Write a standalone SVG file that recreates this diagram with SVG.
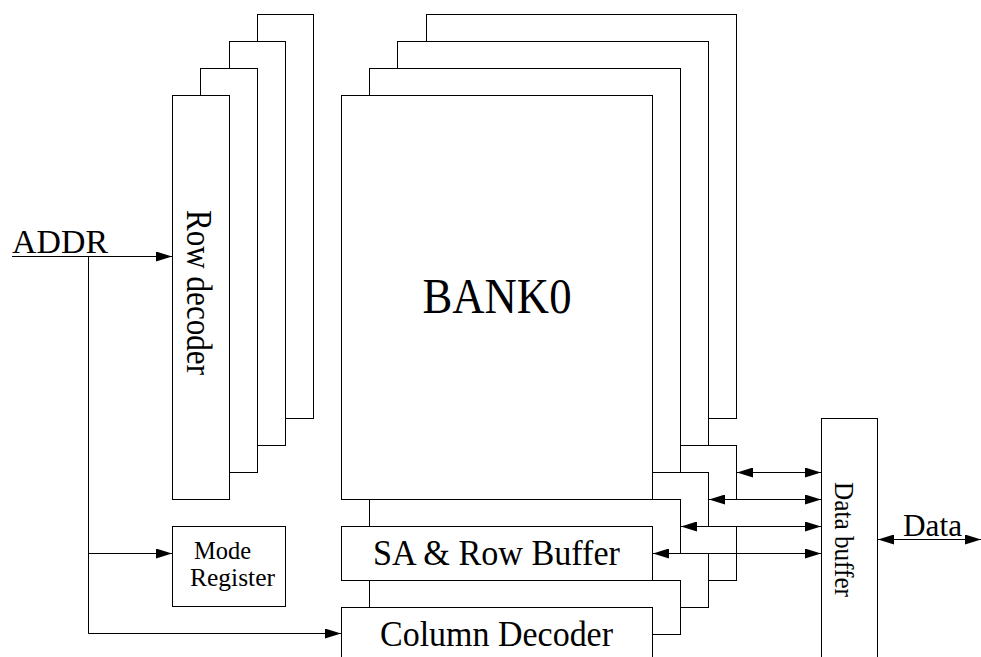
<svg xmlns="http://www.w3.org/2000/svg" width="981" height="657" viewBox="0 0 981 657">
<style>
.b{fill:#fff;stroke:#000;stroke-width:1}
.c{fill:none;stroke:#000;stroke-width:1}
.a2{marker-start:url(#ah);marker-end:url(#ah)}
.a1{marker-end:url(#ah)}
.t{font-family:"Liberation Serif","Times New Roman",serif;fill:#000}
</style>
<defs>
<marker id="ah" viewBox="0 0 16 10" refX="16" refY="5" markerWidth="16" markerHeight="10" markerUnits="userSpaceOnUse" orient="auto-start-reverse">
<path d="M0,0 L16,5 L0,10 Z" fill="#000"/>
</marker>
</defs>
<rect width="981" height="657" fill="#fff"/>
<g id="row-decoder">
<rect class="b" x="257.5" y="14.5" width="56" height="404"/>
<rect class="b" x="229.5" y="41.5" width="56" height="404"/>
<rect class="b" x="200.5" y="68.5" width="57" height="404"/>
<rect class="b" x="172.5" y="95.5" width="57" height="404"/>
<text class="t" transform="translate(187,292.5) rotate(90)" font-size="35" text-anchor="middle" textLength="165" lengthAdjust="spacingAndGlyphs">Row decoder</text>
</g>
<g id="bank3">
<rect class="b" x="426.5" y="14.5" width="310" height="404"/>
<rect class="b" x="426.5" y="445.5" width="310" height="54"/>
<rect class="b" x="426.5" y="526.5" width="310" height="54"/>
</g>
<g id="bank2">
<rect class="b" x="397.5" y="41.5" width="311" height="404"/>
<rect class="b" x="397.5" y="472.5" width="311" height="54"/>
<rect class="b" x="397.5" y="553.5" width="311" height="54"/>
</g>
<g id="bank1">
<rect class="b" x="369.5" y="68.5" width="311" height="404"/>
<rect class="b" x="369.5" y="499.5" width="311" height="54"/>
<rect class="b" x="369.5" y="580.5" width="311" height="54"/>
</g>
<g id="bank0">
<rect class="b" x="341.5" y="95.5" width="311" height="404"/>
<text class="t" x="497" y="313" font-size="50" text-anchor="middle" textLength="149" lengthAdjust="spacingAndGlyphs">BANK0</text>
</g>
<g id="sa-row-buffer">
<rect class="b" x="341.5" y="526.5" width="311" height="54"/>
<text class="t" x="373" y="565" font-size="35" textLength="247" lengthAdjust="spacingAndGlyphs">SA &amp; Row Buffer</text>
</g>
<g id="column-decoder">
<rect class="b" x="341.5" y="607.5" width="311" height="60"/>
<text class="t" x="380" y="646" font-size="35" textLength="233" lengthAdjust="spacingAndGlyphs">Column Decoder</text>
</g>
<g id="mode-register">
<rect class="b" x="172.5" y="526.5" width="113" height="80"/>
<text class="t" x="194" y="559" font-size="26" textLength="57" lengthAdjust="spacingAndGlyphs">Mode</text>
<text class="t" x="190" y="586" font-size="26" textLength="85" lengthAdjust="spacingAndGlyphs">Register</text>
</g>
<g id="data-buffer">
<rect class="b" x="821.5" y="418.5" width="56" height="250"/>
<text class="t" transform="translate(835,539.5) rotate(90)" font-size="27" text-anchor="middle" textLength="115" lengthAdjust="spacingAndGlyphs">Data buffer</text>
</g>
<g id="labels">
<text class="t" x="12" y="253" font-size="34" textLength="96" lengthAdjust="spacingAndGlyphs">ADDR</text>
<text class="t" x="903" y="536" font-size="32" textLength="59" lengthAdjust="spacingAndGlyphs">Data</text>
</g>
<g id="connectors">
<line class="c a1" x1="12" y1="256.5" x2="172" y2="256.5"/>
<polyline class="c" points="88.5,256.5 88.5,633.5 300,633.5"/>
<line class="c a1" x1="88.5" y1="553.5" x2="172" y2="553.5"/>
<line class="c a1" x1="88.5" y1="633.5" x2="341" y2="633.5"/>
<line class="c a2" x1="737" y1="472.5" x2="821" y2="472.5"/>
<line class="c a2" x1="709" y1="499.5" x2="821" y2="499.5"/>
<line class="c a2" x1="681" y1="526.5" x2="821" y2="526.5"/>
<line class="c a2" x1="653" y1="553.5" x2="821" y2="553.5"/>
<line class="c a2" x1="878" y1="539.5" x2="981" y2="539.5"/>
</g>
</svg>
